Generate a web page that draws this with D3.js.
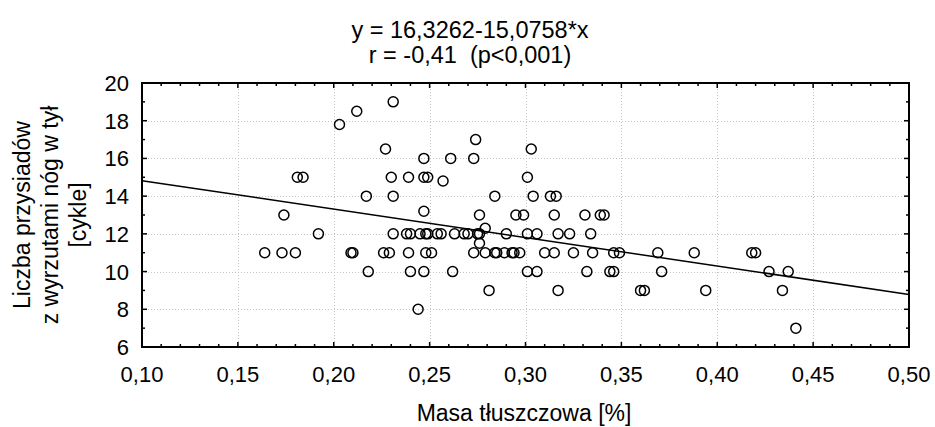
<!DOCTYPE html>
<html>
<head>
<meta charset="utf-8">
<script src="https://cdn.jsdelivr.net/npm/d3@7"></script>
<style>
  html, body { margin: 0; padding: 0; background: #fff; }
  svg text { font-family: "Liberation Sans", Arial, sans-serif; fill: #000; }
</style>
</head>
<body>
<svg id="chart" width="935" height="427"></svg>
<script>
// ---- data ----
const fatMass = [0.164,0.173,0.180,0.174,0.181,0.184,0.192,0.203,0.209,0.210,0.212,0.217,0.218,0.227,0.226,0.229,0.231,0.230,0.231,0.231,
  0.239,0.238,0.240,0.239,0.240,0.244,0.247,0.247,0.249,0.247,0.245,0.248,0.249,0.248,0.251,0.247,0.254,0.256,0.257,0.261,
  0.263,0.262,0.268,0.270,0.273,0.274,0.273,0.275,0.276,0.276,0.276,0.279,0.279,0.281,0.284,0.284,0.285,0.289,0.290,0.293,
  0.294,0.297,0.295,0.299,0.301,0.301,0.301,0.303,0.304,0.306,0.306,0.310,0.313,0.316,0.315,0.315,0.317,0.317,0.323,0.325,
  0.331,0.332,0.334,0.335,0.339,0.341,0.344,0.346,0.346,0.349,0.360,0.362,0.369,0.371,0.388,0.394,0.418,0.420,0.427,0.434,
  0.437,0.441];
const squats = [11,11,11,13,15,15,12,17.8,11,11,18.5,14,10,16.5,11,11,19,15,14,12,
  15,12,12,11,10,8,16,15,15,13.2,12,12,12,11,11,10,12,12,14.8,16,
  12,10,12,12,16,17,11,12,12,13,11.5,12.3,11,9,14,11,11,11,12,11,
  11,11,13,13,15,12,10,16.5,14,12,10,11,14,14,13,11,12,9,12,11,
  13,10,12,11,13,13,10,10,11,11,9,9,11,10,11,9,11,11,10,9,
  10,7];
const intercept = 16.3262;
const slope = -15.0758;
const xTicks = [0.10,0.15,0.20,0.25,0.30,0.35,0.40,0.45,0.50];
const xTickLabels = ["0,10","0,15","0,20","0,25","0,30","0,35","0,40","0,45","0,50"];
const yTicks = [6,8,10,12,14,16,18,20];
const yTickLabels = ["6","8","10","12","14","16","18","20"];
const titleLines = ["y = 16,3262-15,0758*x", "r = -0,41\u00a0\u00a0(p<0,001)"];
const xTitle = "Masa tłuszczowa [%]";
const yTitleLines = ["Liczba przysiadów", "z wyrzutami nóg w tył", "[cykle]"];

// ---- layout ----
const L = 142, R = 909, T = 83, B = 347;
const svg = d3.select("#chart");
const x = d3.scaleLinear().domain([0.10, 0.50]).range([L, R]);
const y = d3.scaleLinear().domain([6, 20]).range([B, T]);

// grid
const grid = svg.append("g").attr("stroke", "#c4c4c4").attr("stroke-width", 1).attr("stroke-dasharray", "1,2");
grid.selectAll(".gx").data(xTicks.slice(1, -1)).join("line")
  .attr("x1", d => Math.round(x(d)) + 0.5).attr("x2", d => Math.round(x(d)) + 0.5)
  .attr("y1", T).attr("y2", B);
grid.selectAll(".gy").data(yTicks.slice(1, -1)).join("line")
  .attr("y1", d => Math.round(y(d)) + 0.5).attr("y2", d => Math.round(y(d)) + 0.5)
  .attr("x1", L).attr("x2", R);

// ticks (inward, all four sides)
const minorX = d3.range(10, 51).map(v => v / 100);
const minorY = d3.range(6, 21);
const tk = svg.append("g").attr("stroke", "#000").attr("stroke-width", 1.5);
minorX.forEach(v => {
  const major = Math.abs(v * 20 - Math.round(v * 20)) < 1e-6;
  const len = major ? 5 : 3;
  tk.append("line").attr("x1", x(v)).attr("x2", x(v)).attr("y1", B).attr("y2", B - len);
  tk.append("line").attr("x1", x(v)).attr("x2", x(v)).attr("y1", T).attr("y2", T + len);
});
minorY.forEach(v => {
  const major = v % 2 === 0;
  const len = major ? 5 : 3;
  tk.append("line").attr("y1", y(v)).attr("y2", y(v)).attr("x1", L).attr("x2", L + len);
  tk.append("line").attr("y1", y(v)).attr("y2", y(v)).attr("x1", R).attr("x2", R - len);
});

// frame
svg.append("rect").attr("x", L).attr("y", T).attr("width", R - L).attr("height", B - T)
  .attr("fill", "none").attr("stroke", "#000").attr("stroke-width", 2);

// regression line
svg.append("line")
  .attr("x1", x(0.10)).attr("y1", y(intercept + slope * 0.10))
  .attr("x2", x(0.50)).attr("y2", y(intercept + slope * 0.50))
  .attr("stroke", "#000").attr("stroke-width", 1.5);

// points
svg.append("g").selectAll("circle").data(fatMass.map((v, i) => [v, squats[i]])).join("circle")
  .attr("cx", d => x(d[0])).attr("cy", d => y(d[1])).attr("r", 5)
  .attr("fill", "none").attr("stroke", "#000").attr("stroke-width", 1.5);

// tick labels
svg.append("g").selectAll("text").data(xTicks).join("text")
  .attr("x", d => x(d)).attr("y", 382).attr("text-anchor", "middle")
  .attr("font-size", 22).text((d, i) => xTickLabels[i]);
svg.append("g").selectAll("text").data(yTicks).join("text")
  .attr("x", 129).attr("y", d => y(d) + 8).attr("text-anchor", "end")
  .attr("font-size", 22).text((d, i) => yTickLabels[i]);

// title
svg.append("g").selectAll("text").data(titleLines).join("text")
  .attr("x", 470).attr("y", (d, i) => 38 + i * 24.5).attr("text-anchor", "middle")
  .attr("font-size", 23.5).text(d => d);

// x title
svg.append("text").attr("x", 524).attr("y", 421).attr("text-anchor", "middle")
  .attr("font-size", 23).text(xTitle);

// y title
const yt = svg.append("g").attr("transform", "translate(0,215) rotate(-90)");
yt.selectAll("text").data(yTitleLines).join("text")
  .attr("x", 0).attr("y", (d, i) => 30 + i * 28).attr("text-anchor", "middle")
  .attr("font-size", 23).text(d => d);
</script>
</body>
</html>
